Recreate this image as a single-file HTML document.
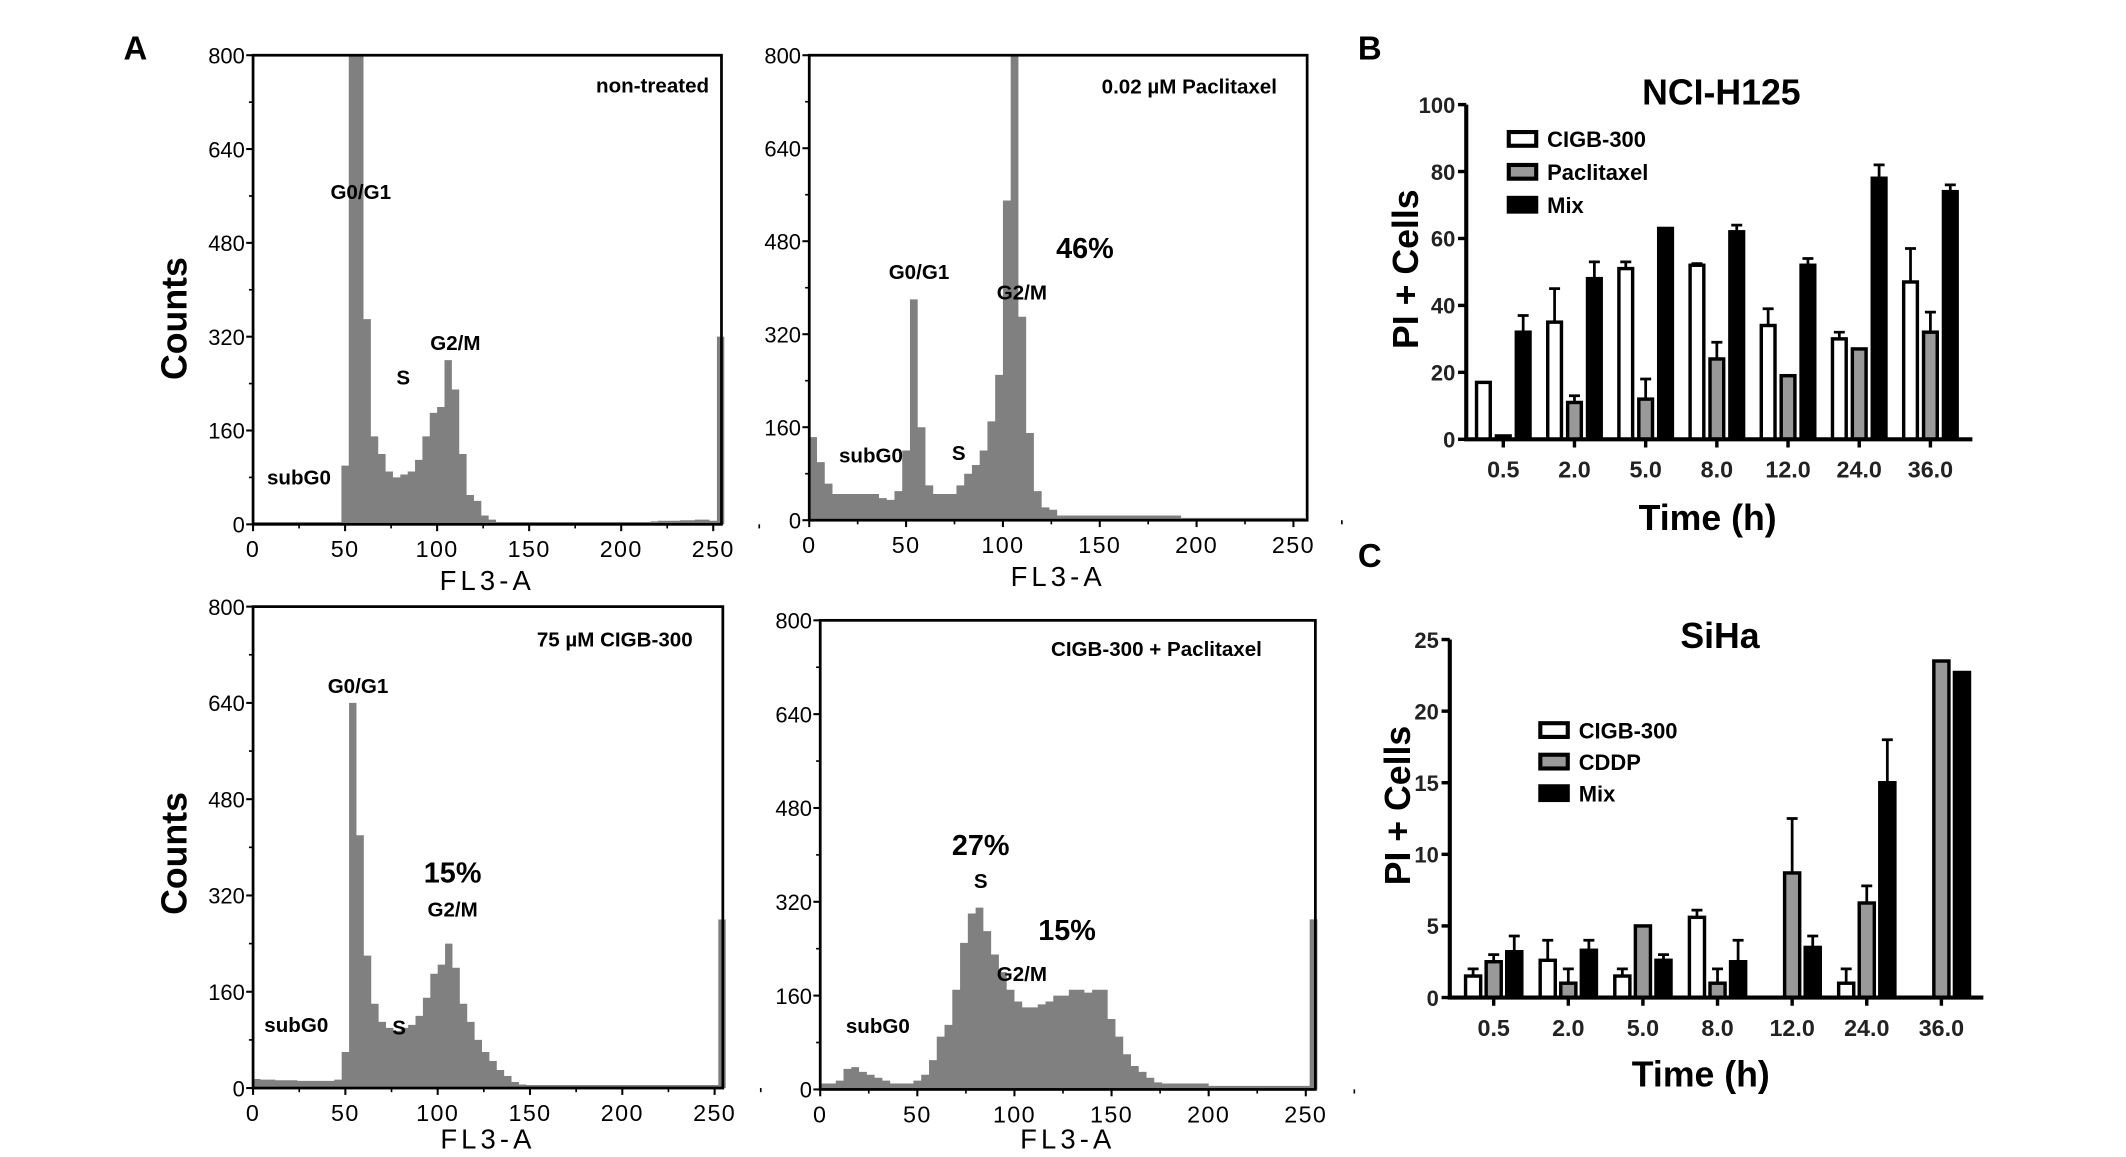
<!DOCTYPE html>
<html><head><meta charset="utf-8">
<style>
html,body{margin:0;padding:0;background:#fff;}
svg{display:block;}
text{font-family:"Liberation Sans",sans-serif;}
</style></head>
<body>
<svg id="fig" xmlns="http://www.w3.org/2000/svg" width="2126" height="1157" viewBox="0 0 1550 843">
<rect x="0" y="0" width="1550" height="843" fill="#fff"/>
<text x="90" y="43" font-family="Liberation Serif" font-weight="bold" font-size="24">A</text>
<text x="990" y="43" font-family="Liberation Serif" font-weight="bold" font-size="24">B</text>
<text x="990" y="413" font-family="Liberation Serif" font-weight="bold" font-size="24">C</text>
<text transform="translate(136,232) rotate(-90)" text-anchor="middle" font-weight="bold" font-size="26">Counts</text>
<text transform="translate(136,622) rotate(-90)" text-anchor="middle" font-weight="bold" font-size="26">Counts</text>
<g id="hists"></g>
<g id="bars"></g>
</svg>
<script>
// ---------- Histogram data (counts per 4-channel bin, 64 bins) ----------
const histTL = [4,4,4,4,4,4,4,4,4,4,4,4,100,820,820,350,150,120,90,80,85,90,110,150,190,200,280,230,120,50,40,15,8,4,4,4,4,4,4,4,4,4,4,4,4,4,4,4,4,4,4,4,4,4,5,6,6,6,7,7,8,8,6,320];
const histTR = [143,100,63,45,45,45,45,45,45,38,35,50,120,380,160,60,45,45,45,60,80,95,120,170,250,550,820,350,150,50,22,18,8,8,8,8,8,8,8,8,8,8,8,8,8,8,8,8,4,4,4,4,4,4,4,4,4,4,4,4,4,4,4,4];
const histBL = [15,14,14,13,13,13,12,12,12,12,12,14,60,640,420,220,140,110,100,95,100,105,120,150,190,205,240,200,140,110,80,60,45,30,20,10,6,5,5,5,5,5,5,5,5,5,5,5,5,5,5,5,5,5,5,5,5,5,5,5,5,5,5,280];
const histBR = [10,10,15,35,38,30,25,20,15,10,10,10,15,25,50,90,110,170,250,300,310,270,230,200,170,150,140,140,145,150,160,160,170,170,165,170,170,120,90,60,40,30,20,12,10,10,10,10,10,10,6,6,6,6,6,6,6,6,6,6,6,6,6,290];
const histTicksX = [0,50,100,150,200,250];
const histTicksY = [0,160,320,480,640,800];

// ---------- Bar chart B (NCI-H125) ----------
const timesB = ["0.5","2.0","5.0","8.0","12.0","24.0","36.0"];
const cigbB = [17,35,51,52,34,30,47];
const cigbErrB = [0,10,2,0.5,5,2,10];
const pacB = [1,11,12,24,19,27,32];
const pacErrB = [0,2,6,5,0,0,6];
const mixB = [32,48,63,62,52,78,74];
const mixErrB = [5,5,0,2,2,4,2];
const ticksB = [0,20,40,60,80,100];

// ---------- Bar chart C (SiHa) ----------
const timesC = ["0.5","2.0","5.0","8.0","12.0","24.0","36.0"];
const cigbC = [1.5,2.6,1.5,5.6,0,1,0];
const cigbErrC = [0.5,1.4,0.5,0.5,0,1,0];
const cddpC = [2.5,1,5,1,8.7,6.6,23.5];
const cddpErrC = [0.5,1,0,1,3.8,1.2,0];
const mixC = [3.2,3.3,2.6,2.5,3.5,15,22.7];
const mixErrC = [1.1,0.7,0.4,1.5,0.8,3,0];
const ticksC = [0,5,10,15,20,25];

const NS = "http://www.w3.org/2000/svg";
function el(tag, attrs, parent, txt){
  const e = document.createElementNS(NS, tag);
  for (const k in attrs) e.setAttribute(k, attrs[k]);
  if (txt !== undefined) e.textContent = txt;
  parent.appendChild(e);
  return e;
}

function drawHist(id, data, titleOff, x0, x250, yBase, yTop, boxR, labels){
  const g = el("g", {}, document.getElementById("hists"));
  
  
  const xs = c => x0 + (x250 - x0) * c / 250;
  const ys = v => yBase - (yBase - yTop) * Math.min(v, 800) / 800;
  let d = "M" + xs(0) + "," + yBase;
  data.forEach((v, i) => {
    d += " L" + xs(i * 4) + "," + ys(v) + " L" + xs(i * 4 + 4) + "," + ys(v);
  });
  d += " L" + xs(256) + "," + yBase + " Z";
  const area = el("path", {d: d, fill: "#808080", stroke: "none"}, g);
  
  
  const box = el("rect", {x: x0, y: yTop, width: boxR - x0, height: yBase - yTop, fill: "none", stroke: "#000", "stroke-width": 2}, g);
  
  
  histTicksX.forEach(t => {
    el("line", {x1: xs(t), x2: xs(t), y1: yBase, y2: yBase + 5, stroke: "#000", "stroke-width": 1.5}, g);
    el("line", {x1: xs(t + 25), x2: xs(t + 25), y1: yBase, y2: yBase + 3, stroke: "#000", "stroke-width": 1.2}, g);
    const tl = el("text", {x: xs(t), y: yBase + 24, "text-anchor": "middle", "font-size": 17, "letter-spacing": 1}, g, String(t));
    
    
  });
  histTicksY.forEach(t => {
    el("line", {x1: x0 - 5, x2: x0, y1: ys(t), y2: ys(t), stroke: "#000", "stroke-width": 1.5}, g);
    if (t < 800) el("line", {x1: x0 - 3, x2: x0, y1: ys(t + 80), y2: ys(t + 80), stroke: "#000", "stroke-width": 1.2}, g);
    const tl = el("text", {x: x0 - 6, y: ys(t) + 6, "text-anchor": "end", "font-size": 16}, g, String(t));
    
    
  });
  const xt = el("text", {x: (x0 + boxR) / 2, y: yBase + titleOff, "text-anchor": "middle", "font-size": 20, "letter-spacing": 3}, g, "FL3-A");
  
  
  labels.forEach(l => {
    const t = el("text", {x: l[1], y: l[2], "text-anchor": l[4] || "middle", "font-weight": "bold", "font-size": l[3]}, g, l[0]);
    
    
  });
}

drawHist("hist-non-treated", histTL, 48, 184.5, 520, 382, 40, 526, [
  ["non-treated", 517, 67, 15, "end"], ["G0/G1", 263, 145, 15], ["S", 294, 280, 15], ["G2/M", 332, 255, 15], ["subG0", 218, 353, 15]]);
drawHist("hist-paclitaxel", histTR, 48, 590, 943, 379, 40, 953, [
  ["0.02 µM Paclitaxel", 931, 68, 15, "end"], ["G0/G1", 670, 203, 15], ["46%", 791, 188, 21], ["G2/M", 745, 218, 15], ["subG0", 635, 337, 15], ["S", 699, 335, 15]]);
drawHist("hist-cigb300", histBL, 44, 184.5, 521, 793, 442, 527, [
  ["75 µM CIGB-300", 505, 471, 15, "end"], ["G0/G1", 261, 505, 15], ["15%", 330, 643, 21], ["G2/M", 330, 668, 15], ["S", 291, 754, 15], ["subG0", 216, 752, 15]]);
drawHist("hist-combination", histBR, 43, 598, 952, 794, 452, 959, [
  ["CIGB-300 + Paclitaxel", 920, 478, 15, "end"], ["27%", 715, 623, 21], ["S", 715, 647, 15], ["15%", 778, 685, 21], ["G2/M", 745, 715, 15], ["subG0", 640, 753, 15]]);

function drawBars(id, cats, series, errs, fills, names, ticks, yMax, ax){
  const g = el("g", {}, document.getElementById("bars"));
  
  
  const ys = v => ax.base - (ax.base - ax.top) * v / yMax;
  const xc = i => ax.first + ax.step * i;
  series.forEach((vals, s) => {
    vals.forEach((v, i) => {
      const cx = xc(i) + (s - 1) * ax.off;
      if (v > 0) {
        const r = el("rect", {x: cx - ax.bw / 2, y: ys(v), width: ax.bw, height: ax.base - ys(v), fill: fills[s], stroke: "#000", "stroke-width": 2.5}, g);
        
        
      }
      const e = errs[s][i];
      if (e > 0) {
        const eb = el("path", {d: "M" + cx + "," + ys(v) + " V" + ys(v + e) + " M" + (cx - 4) + "," + ys(v + e) + " H" + (cx + 4), stroke: "#000", "stroke-width": 2, fill: "none"}, g);
        
        
      }
    });
  });
  el("path", {d: "M" + ax.left + "," + ax.top + " V" + ax.base + " H" + ax.right, stroke: "#000", "stroke-width": 3, fill: "none"}, g);
  ticks.forEach(t => {
    el("line", {x1: ax.left - 6, x2: ax.left, y1: ys(t), y2: ys(t), stroke: "#000", "stroke-width": 2.5}, g);
    const tl = el("text", {x: ax.left - 8, y: ys(t) + 6, "text-anchor": "end", "font-weight": "bold", "font-size": 16, fill: "#222"}, g, String(t));
    
    
  });
  cats.forEach((c, i) => {
    el("line", {x1: xc(i), x2: xc(i), y1: ax.base, y2: ax.base + 6, stroke: "#000", "stroke-width": 2.5}, g);
    const tl = el("text", {x: xc(i), y: ax.base + 28, "text-anchor": "middle", "font-weight": "bold", "font-size": 17, fill: "#222"}, g, c);
    
    
  });
  const ttl = el("text", {x: ax.titleX, y: ax.titleY, "text-anchor": "middle", "font-weight": "bold", "font-size": 26}, g, ax.title);
  
  
  const xt = el("text", {x: ax.xtX, y: ax.xtY, "text-anchor": "middle", "font-weight": "bold", "font-size": 26}, g, "Time (h)");
  
  
  const yt = el("text", {transform: "translate(" + ax.ytX + "," + ax.ytY + ") rotate(-90)", "text-anchor": "middle", "font-weight": "bold", "font-size": 26}, g, "PI + Cells");
  
  
  names.forEach((n, s) => {
    const ly = ax.legY + s * ax.legStep;
    const sw = el("rect", {x: ax.legX, y: ly - 6, width: 20, height: 10, fill: fills[s], stroke: "#000", "stroke-width": 3}, g);
    
    
    const lt = el("text", {x: ax.legX + 28, y: ly + 5, "font-weight": "bold", "font-size": 16}, g, n);
    
    
  });
}

drawBars("chart-nci-h125", timesB, [cigbB, pacB, mixB], [cigbErrB, pacErrB, mixErrB],
  ["#fff", "#999", "#000"], ["CIGB-300", "Paclitaxel", "Mix"], ticksB, 100,
  {left: 1069, right: 1438, base: 320, top: 76, first: 1096, step: 51.9, off: 14.5, bw: 10,
   title: "NCI-H125", titleX: 1255, titleY: 76, xtX: 1245, xtY: 386, ytX: 1034, ytY: 196,
   legX: 1100, legY: 102, legStep: 24});
drawBars("chart-siha", timesC, [cigbC, cddpC, mixC], [cigbErrC, cddpErrC, mixErrC],
  ["#fff", "#999", "#000"], ["CIGB-300", "CDDP", "Mix"], ticksC, 25,
  {left: 1057, right: 1446, base: 727, top: 466, first: 1089, step: 54.4, off: 15, bw: 11,
   title: "SiHa", titleX: 1254, titleY: 472, xtX: 1240, xtY: 792, ytX: 1028, ytY: 587,
   legX: 1123, legY: 533, legStep: 23});
</script>
</body></html>
